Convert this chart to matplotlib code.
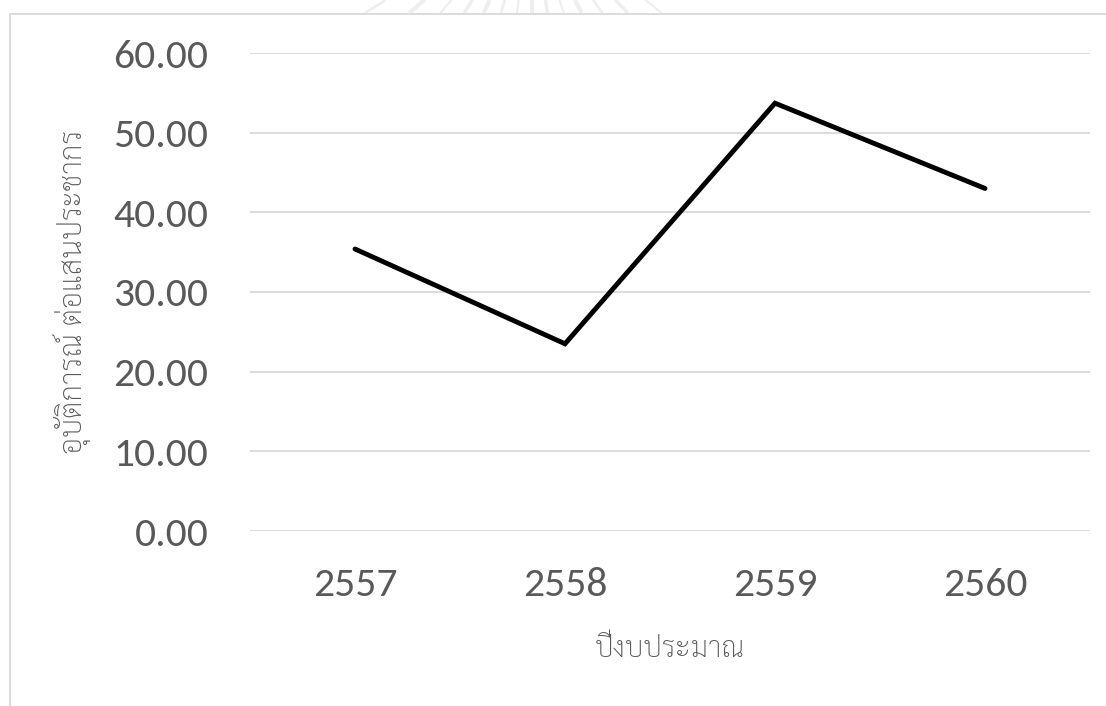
import numpy as np
import matplotlib
matplotlib.use("Agg")
import matplotlib.pyplot as plt
from matplotlib.patches import Rectangle
from matplotlib.lines import Line2D

# Accidents per 100,000 population, by budget year (Thai calendar)
years = ["2557", "2558", "2559", "2560"]
rates = [35.4, 23.5, 53.7, 43.0]
y_ticks = [0, 10, 20, 30, 40, 50, 60]
y_tick_labels = ["%.2f" % v for v in y_ticks]

x_title = "ปีงบประมาณ"
y_title = "อุบัติการณ์ ต่อแสนประชากร"

num_font = ["Carlito", "Open Sans", "DejaVu Sans"]
thai_font = ["Sarabun", "Noto Sans Thai Looped", "DejaVu Sans"]
text_color = "#595959"
grid_color = "#d9d9d9"

fig = plt.figure(figsize=(11.06, 7.06), dpi=100)
W, H = 1106, 706

def px(x, y):
    return x / W, 1 - y / H

# faint sunburst emblem showing above the chart frame
cx, cy = 530, -90
for ang, lw in zip(np.linspace(-58, 52, 14), [2, 3, 1.5, 2.5, 3, 2, 1.5, 3, 2.5, 1.5, 3, 2, 2.5, 1.5]):
    a = np.deg2rad(ang)
    dx, dy = np.sin(a), np.cos(a)
    t0 = (0 - cy) / dy
    t1 = (13 - cy) / dy
    p0 = px(cx + dx * t0, 0)
    p1 = px(cx + dx * t1, 13)
    fig.add_artist(Line2D([p0[0], p1[0]], [p0[1], p1[1]], transform=fig.transFigure,
                          color="#eeeeee", linewidth=lw, solid_capstyle="butt", zorder=-2))

# chart area frame
fig.add_artist(Rectangle((10 / W, -0.1), 1.2, (H - 14) / H + 0.1,
                         transform=fig.transFigure, facecolor="white",
                         edgecolor=grid_color, linewidth=1.3, zorder=-1))

ax = fig.add_axes([250 / W, 1 - 531 / H, 840 / W, (531 - 53) / H])
ax.set_facecolor("none")
x = list(range(len(years)))
ax.plot(x, rates, color="black", linewidth=3.5, solid_joinstyle="miter",
        solid_capstyle="round", zorder=3)

ax.set_xlim(-0.5, len(years) - 0.5)
ax.set_ylim(0, 60)
ax.set_yticks(y_ticks)
ax.set_yticklabels(y_tick_labels, family=num_font, fontsize=30, color=text_color)
ax.set_xticks(x)
ax.set_xticklabels(years, family=num_font, fontsize=30, color=text_color)
ax.tick_params(length=0)
ax.tick_params(axis="y", pad=30)
ax.tick_params(axis="x", pad=26)

for v in y_ticks:
    ax.axhline(v, color=grid_color, linewidth=1.3, zorder=1)
for s in ax.spines.values():
    s.set_visible(False)

ax.set_xlabel(x_title, family=thai_font, fontsize=21, fontweight="light",
              color=text_color, labelpad=23)
ax.set_ylabel(y_title, family=thai_font, fontsize=21.5, fontweight="light",
              color=text_color, labelpad=15)

fig.savefig("out.png", dpi=100)
